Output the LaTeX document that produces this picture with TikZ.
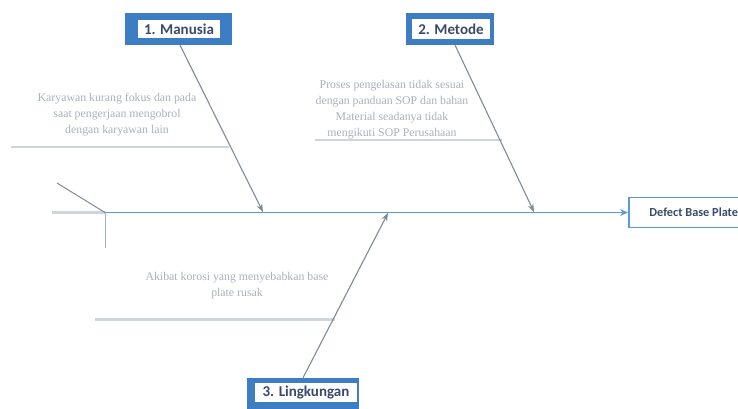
\documentclass[tikz,border=0pt]{standalone}
\usepackage{fontspec}
\setmainfont{Liberation Serif}
\newfontfamily\lblfont{Carlito}
\usetikzlibrary{arrows.meta}
\definecolor{boxblue}{HTML}{3C7DC4}
\definecolor{spineblue}{HTML}{5B9BD5}
\definecolor{lbltext}{HTML}{3A4A6A}
\definecolor{causetext}{HTML}{A8B0BC}
\definecolor{boneline}{HTML}{7F8A98}
\definecolor{shelf}{HTML}{CDD5DF}
\tikzset{
  outerbox/.style={fill=boxblue, draw=none, inner sep=0pt},
  innerbox/.style={fill=white, draw=none, inner sep=0pt, font=\lblfont\bfseries\fontsize{15}{15}\selectfont, text=lbltext},
  bone/.style={draw=boneline, line width=1.1pt, -{Stealth[length=8pt,width=6pt]}},
  shelfline/.style={draw=shelf, line width=2.5pt},
  cause/.style={font=\fontsize{11.8}{16}\selectfont, text=causetext, align=center, inner sep=0pt},
}
\begin{document}
\begin{tikzpicture}[x=1pt,y=-1pt]
\useasboundingbox (0,0) rectangle (738,408);
\clip (0,0) rectangle (738,408);
% label boxes
\node[outerbox, minimum width=107pt, minimum height=32pt] (m1o) at (178.5,29) {};
\node[innerbox, minimum width=82pt, minimum height=18pt] (m1) at (179,29) {1. Manusia};
\node[outerbox, minimum width=88pt, minimum height=32pt] (m2o) at (450,29) {};
\node[innerbox, minimum width=78pt, minimum height=20pt] (m2) at (451,29) {2. Metode};
\node[outerbox, minimum width=112pt, minimum height=32pt] (m3o) at (303,394) {};
\node[innerbox, minimum width=102pt, minimum height=19pt] (m3) at (306,392.5) {3. Lingkungan};
% effect
\node[draw=spineblue, line width=1.5pt, fill=white, minimum width=130pt, minimum height=30pt, anchor=west,
      font=\lblfont\bfseries\fontsize{12.3}{12.3}\selectfont, text=lbltext, inner xsep=4pt] (eff) at (628,212.5) {Defect Base Plate\hspace{12pt}};
% spine
\coordinate (head) at (105,212.5);
\coordinate (t1) at (57,183);
\coordinate (t2) at (52,212.5);
\coordinate (t3) at (105,248);
\draw[draw=shelf, line width=2.5pt] (t2) -- (head);
\draw[draw=boneline, line width=1pt] (t1) -- (head);
\draw[draw=boneline!70, line width=1pt] (head) -- (t3);
\draw[draw=spineblue, line width=1.3pt, -{Stealth[length=8pt,width=7pt]}] (head) -- (eff.west);
% bone ends
\coordinate (e1) at (263,212);
\coordinate (e2) at (534,212);
\coordinate (e3) at (388,213);
% shelves
\coordinate (s1a) at (11,147);
\coordinate (s1b) at (229,147);
\coordinate (s2a) at (315,140);
\coordinate (s2b) at (502,140);
\coordinate (s3a) at (95,319.5);
\coordinate (s3b) at (335,319.5);
\draw[shelfline] (s1a) -- (s1b);
\draw[shelfline] (s2a) -- (s2b);
\draw[shelfline] (s3a) -- (s3b);
% bones
\draw[bone] (m1o.south) ++(1.5,0) coordinate (b1) (b1) -- (e1);
\draw[bone] (455,45) coordinate (b2) (b2) -- (e2);
\draw[bone] (m3o.north) coordinate (b3) (b3) -- (e3);
% causes
\node[cause] (c1) at (117,115) {Karyawan kurang fokus dan pada\\saat pengerjaan mengobrol\\dengan karyawan lain};
\node[cause] (c2) at (392,110) {Proses pengelasan tidak sesuai\\dengan panduan SOP dan bahan\\Material seadanya tidak\\mengikuti SOP Perusahaan};
\node[cause] (c3) at (237,285.5) {Akibat korosi yang menyebabkan base\\plate rusak};
\end{tikzpicture}
\end{document}
